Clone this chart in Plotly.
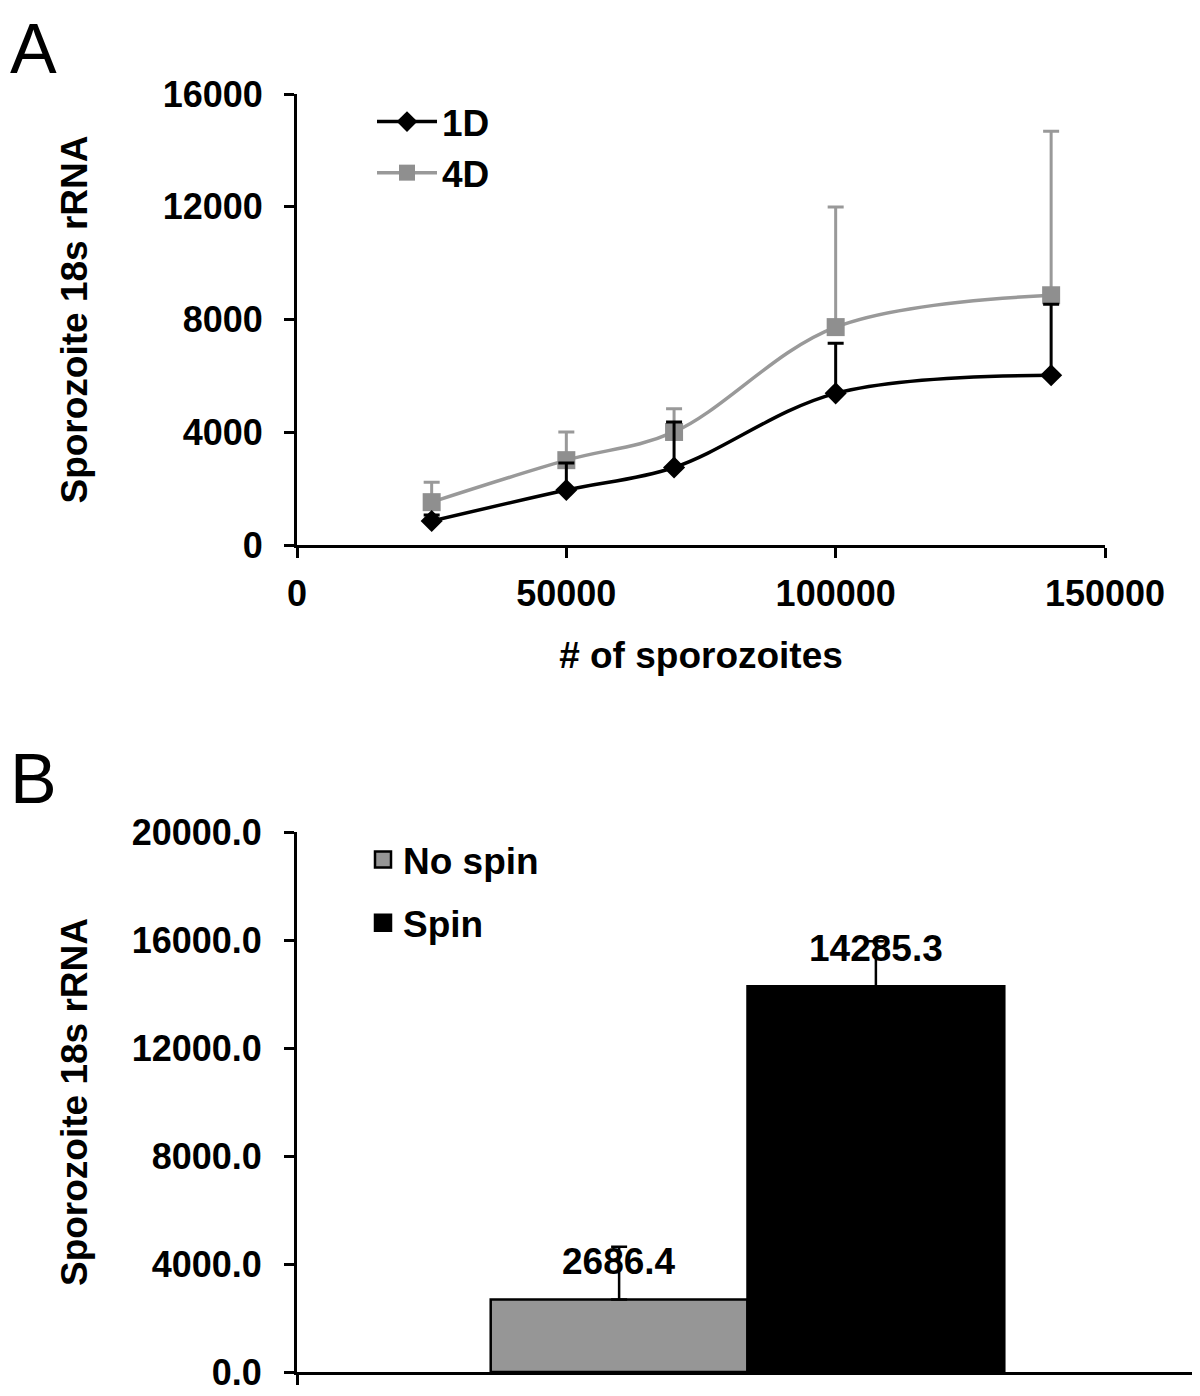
import plotly.graph_objects as go

# ---------------- data ----------------
# Panel A
sporozoites = [25000, 50000, 70000, 100000, 140000]
d1_values = [850, 1950, 2750, 5380, 6020]
d1_err = [210, 960, 1610, 1780, 2520]
d4_values = [1520, 3010, 4010, 7730, 8860]
d4_err = [710, 1000, 820, 4260, 5820]
a_yticks = [0, 4000, 8000, 12000, 16000]
a_xticks = [0, 50000, 100000, 150000]

# Panel B
groups = ["No spin", "Spin"]
b_values = [2686.4, 14285.3]
b_err = [1950, 1670]
b_colors = ["#969696", "#000000"]
b_yticks = [0, 4000, 8000, 12000, 16000, 20000]

W, H = 1200, 1396
OFF = 8  # page body margin


def px(x):
    return (x - OFF) / W


def py(y):
    return 1 - (y - OFF) / H


FONT = "Liberation Sans, Arial, Helvetica, sans-serif"
TICKF = dict(family=FONT, size=36, color="black", weight="bold")
TITLEF = dict(family=FONT, size=37, color="black", weight="bold")

fig = go.Figure()

# 4D first so that 1D error bars draw on top
fig.add_trace(go.Scatter(
    x=sporozoites, y=d4_values, name="4D", mode="lines+markers",
    line=dict(color="#999999", width=3.5, shape="spline", smoothing=1),
    marker=dict(symbol="square", size=18, color="#8f8f8f"),
    error_y=dict(type="data", symmetric=False, array=d4_err,
                 arrayminus=[0] * len(d4_err), color="#999999",
                 thickness=3, width=8),
    xaxis="x", yaxis="y", legend="legend"))
fig.add_trace(go.Scatter(
    x=sporozoites, y=d1_values, name="1D", mode="lines+markers",
    line=dict(color="black", width=3.5, shape="spline", smoothing=1),
    marker=dict(symbol="diamond", size=17, color="black"),
    error_y=dict(type="data", symmetric=False, array=d1_err,
                 arrayminus=[0] * len(d1_err), color="black",
                 thickness=3, width=8),
    xaxis="x", yaxis="y", legend="legend"))

# Panel B bars
cat = [""]
for g, v, e, c in zip(groups, b_values, b_err, b_colors):
    fig.add_trace(go.Bar(
        x=cat, y=[v], name=g, marker=dict(color=c, line=dict(color="black", width=2.5)),
        error_y=dict(type="data", symmetric=False, array=[e], arrayminus=[0],
                     color="black", thickness=2.5, width=8),
        xaxis="x2", yaxis="y2", showlegend=False))
    # legend proxy with a larger square swatch
    fig.add_trace(go.Scatter(
        x=[None], y=[None], name=g, mode="markers",
        marker=dict(symbol="square", size=22, color=c, line=dict(color="black", width=2.5)),
        xaxis="x2", yaxis="y2", legend="legend2", legendgroup=g))

# value labels above bars
bargap = 0.43
bw = (1 - bargap) / len(groups)
for i, (g, v) in enumerate(zip(groups, b_values)):
    off = (i - (len(groups) - 1) / 2) * bw
    fig.add_annotation(x=off, y=v, xref="x2", yref="y2", text=f"{v:.1f}",
                       showarrow=False, yanchor="bottom", yshift=15,
                       font=TITLEF)

axis_common = dict(showline=True, linecolor="black", linewidth=3, ticks="outside",
                   ticklen=10, tickwidth=3, tickcolor="black", showgrid=False,
                   zeroline=False, tickfont=TICKF, automargin=False)

fig.update_layout(
    width=W, height=H, autosize=False,
    margin=dict(l=0, r=0, t=0, b=0, pad=0),
    plot_bgcolor="white", paper_bgcolor="white",
    font=dict(family=FONT, color="black"),
    barmode="group", bargap=bargap, bargroupgap=0,
    xaxis=dict(domain=[px(297), px(1105)], range=[0, 150000], tickvals=a_xticks,
               tickformat="d", anchor="y", ticklabelstandoff=5,
               title=dict(text="# of sporozoites", font=TITLEF, standoff=29),
               **axis_common),
    yaxis=dict(domain=[py(545), py(94)], range=[0, 16000], tickvals=a_yticks,
               tickformat="d", anchor="x", ticklabelstandoff=14,
               title=dict(text="Sporozoite 18s rRNA", font=TITLEF, standoff=64),
               **axis_common),
    xaxis2=dict(domain=[px(297), px(1198)], anchor="y2", tickson="boundaries",
                showticklabels=False, range=[-0.5, 0.5], **axis_common),
    yaxis2=dict(domain=[py(1372), py(832)], range=[0, 20000], tickvals=b_yticks,
                tickformat=".1f", anchor="x2", ticklabelstandoff=15,
                title=dict(text="Sporozoite 18s rRNA", font=TITLEF, standoff=33),
                **axis_common),
    legend=dict(x=px(372), y=py(91), xanchor="left", yanchor="top",
                traceorder="reversed", font=TITLEF, bgcolor="rgba(0,0,0,0)",
                itemwidth=60, tracegroupgap=0),
    legend2=dict(x=px(363), y=py(829), xanchor="left", yanchor="top",
                 traceorder="grouped", font=TITLEF, bgcolor="rgba(0,0,0,0)",
                 tracegroupgap=12),
)

fig.add_annotation(text="A", x=px(8), y=py(8), xref="paper", yref="paper", xanchor="left",
                   yanchor="top", showarrow=False,
                   font=dict(family=FONT, size=70, color="black"))
fig.add_annotation(text="B", x=px(8), y=py(738), xref="paper", yref="paper",
                   xanchor="left", yanchor="top", showarrow=False,
                   font=dict(family=FONT, size=70, color="black"))

fig.write_html("out.html")
